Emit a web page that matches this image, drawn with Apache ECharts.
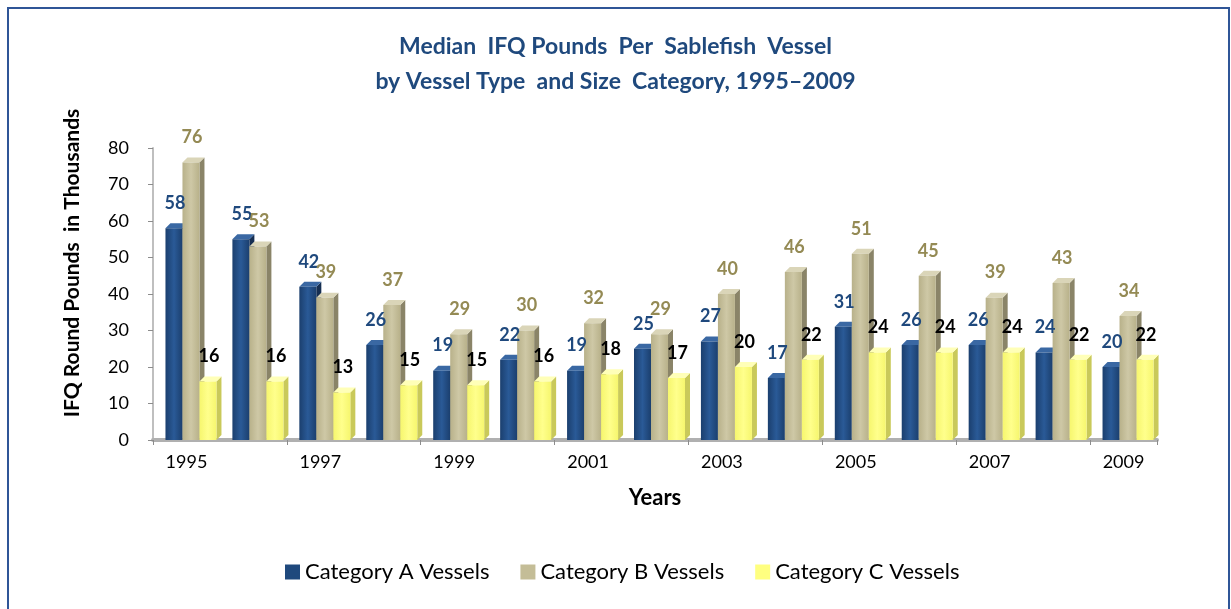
<!DOCTYPE html>
<html>
<head>
<meta charset="utf-8">
<script src="https://cdn.jsdelivr.net/npm/echarts@6/dist/echarts.min.js"></script>
<style>
  html, body { margin: 0; padding: 0; background: #fff; }
  #main { width: 1231px; height: 609px; }
</style>
</head>
<body>
<div id="main"></div>
<script>
var years = ['1995','1996','1997','1998','1999','2000','2001','2002','2003','2004','2005','2006','2007','2008','2009'];
var catA = [58, 55, 42, 26, 19, 22, 19, 25, 27, 17, 31, 26, 26, 24, 20];
var catB = [76, 53, 39, 37, 29, 30, 32, 29, 40, 46, 51, 45, 39, 43, 34];
var catC = [16, 16, 13, 15, 15, 16, 18, 17, 20, 22, 24, 24, 24, 22, 22];
var yTicks = [0, 10, 20, 30, 40, 50, 60, 70, 80];

var myChart = echarts.init(document.getElementById('main'));

// pseudo 3D bar: front + top + side faces, placed from the axis coords
function bar3d(slot, front, top, side, labelColor) {
    return function(params, api) {
        var idx = api.value(0);
        var v = api.value(1);
        var p = api.coord([idx, v]);
        var base = api.coord([idx, 0]);
        var bw = 17, d = 5;
        var x0 = p[0] - 21 + slot * bw;
        var y0 = p[1];
        var y1 = base[1];
        return {
            type: 'group',
            children: [
                {
                    type: 'polygon',
                    shape: { points: [[x0 + bw, y0], [x0 + bw + d, y0 - d], [x0 + bw + d, y1 - d], [x0 + bw, y1]] },
                    style: { fill: side }
                },
                {
                    type: 'polygon',
                    shape: { points: [[x0, y0], [x0 + d, y0 - d], [x0 + bw + d, y0 - d], [x0 + bw, y0]] },
                    style: { fill: top }
                },
                {
                    type: 'rect',
                    shape: { x: x0, y: y0, width: bw, height: y1 - y0 },
                    style: {
                        fill: new echarts.graphic.LinearGradient(0, 0, 1, 0, [
                            { offset: 0, color: front[0] },
                            { offset: 0.5, color: front[1] },
                            { offset: 1, color: front[0] }
                        ])
                    }
                },
                {
                    type: 'text',
                    z2: 100,
                    style: {
                        text: String(v),
                        x: x0 + bw / 2 + 1,
                        y: y0 - 25,
                        align: 'center',
                        verticalAlign: 'middle',
                        fontFamily: 'Lato',
                        fontWeight: 'bold',
                        fontSize: 18,
                        fill: labelColor
                    }
                }
            ]
        };
    };
}

function pairs(arr) {
    var out = [];
    for (var i = 0; i < arr.length; i++) {
        out.push([i, arr[i]]);
    }
    return out;
}

var option = {
    backgroundColor: '#fff',
    animation: false,
    title: {
        text: 'Median  IFQ Pounds  Per  Sablefish  Vessel\nby Vessel Type  and Size  Category, 1995\u20132009',
        left: 'center',
        top: 24,
        textStyle: {
            fontFamily: 'Lato',
            fontWeight: 'bold',
            fontSize: 23,
            lineHeight: 35,
            color: '#1F497D'
        }
    },
    graphic: [
        {
            type: 'rect',
            shape: { x: 8, y: 8, width: 1221, height: 620 },
            style: { fill: 'none', stroke: '#2F5597', lineWidth: 2 },
            silent: true
        },
        {
            type: 'text',
            x: 72,
            y: 263,
            rotation: Math.PI / 2,
            style: {
                text: 'IFQ Round Pounds  in Thousands',
                align: 'center',
                verticalAlign: 'middle',
                fontFamily: 'Lato',
                fontWeight: 'bold',
                fontSize: 21,
                fill: '#000'
            }
        }
    ],
    legend: {
        left: 280,
        top: 556,
        icon: 'rect',
        itemWidth: 15,
        itemHeight: 15,
        itemGap: 31,
        textStyle: { fontFamily: 'Lato', fontSize: 22, color: '#000' },
        data: ['Category A Vessels', 'Category B Vessels', 'Category C Vessels']
    },
    grid: {
        left: 153,
        right: 74,
        top: 148,
        bottom: 169
    },
    xAxis: {
        type: 'category',
        data: years,
        name: 'Years',
        nameLocation: 'middle',
        nameGap: 47,
        nameTextStyle: { fontFamily: 'Lato', fontWeight: 'bold', fontSize: 22, color: '#000' },
        axisLine: { lineStyle: { color: '#B0B0B0', width: 4 } },
        axisTick: { show: true, length: 5, lineStyle: { color: '#8C8C8C', width: 1 } },
        axisLabel: {
            interval: 1,
            margin: 13,
            fontFamily: 'Lato',
            fontSize: 18,
            color: '#000'
        }
    },
    yAxis: {
        type: 'value',
        min: yTicks[0],
        max: yTicks[yTicks.length - 1],
        interval: 10,
        axisLine: { show: true, lineStyle: { color: '#BFBFBF', width: 2 } },
        axisTick: { show: true, length: 5, lineStyle: { color: '#8C8C8C' } },
        splitLine: { show: false },
        axisLabel: {
            margin: 24,
            fontFamily: 'Lato',
            fontSize: 18,
            color: '#000'
        }
    },
    series: [
        {
            name: 'Category A Vessels',
            type: 'custom',
            itemStyle: { color: '#1F497D' },
            renderItem: bar3d(0, ['#1B3F6E', '#2A5A97'], '#3A68A3', '#162F52', '#1F497D'),
            encode: { x: 0, y: 1 },
            data: pairs(catA)
        },
        {
            name: 'Category B Vessels',
            type: 'custom',
            itemStyle: { color: '#C4BD97' },
            renderItem: bar3d(1, ['#B8B18A', '#CEC8A6'], '#DAD5B8', '#8A8468', '#948A54'),
            encode: { x: 0, y: 1 },
            data: pairs(catB)
        },
        {
            name: 'Category C Vessels',
            type: 'custom',
            itemStyle: { color: '#FFFF80' },
            renderItem: bar3d(2, ['#F6F66E', '#FFFF8C'], '#FFFFB8', '#C9C95A', '#000000'),
            encode: { x: 0, y: 1 },
            data: pairs(catC)
        }
    ]
};

myChart.setOption(option);
window.onresize = myChart.resize;
</script>
</body>
</html>
